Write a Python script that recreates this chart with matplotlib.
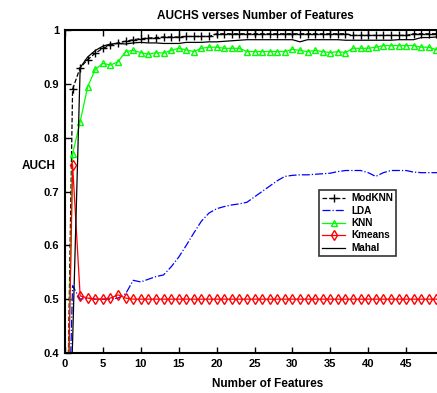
from matplotlib import pyplot as plt
import numpy as np

plt.rcParams['font.family'] = ['Liberation Sans', 'DejaVu Sans']
plt.rcParams['font.weight'] = 'bold'

features = list(range(0, 51))

modknn = [0.0, 0.89, 0.93, 0.945, 0.957, 0.966, 0.972, 0.976, 0.979, 0.982, 0.984,
          0.985, 0.986, 0.987, 0.987, 0.987, 0.988, 0.988, 0.988, 0.988, 0.993,
          0.993, 0.993, 0.993, 0.993, 0.993, 0.993, 0.993, 0.993, 0.993, 0.993,
          0.993, 0.993, 0.993, 0.993, 0.993, 0.993, 0.993, 0.990, 0.990, 0.990,
          0.990, 0.990, 0.990, 0.990, 0.990, 0.993, 0.993, 0.993, 0.993, 0.993]

lda = [0.0, 0.525, 0.5, 0.502, 0.5, 0.5, 0.5, 0.502, 0.51, 0.535, 0.532,
       0.537, 0.542, 0.545, 0.56, 0.578, 0.6, 0.623, 0.645, 0.66, 0.668,
       0.672, 0.675, 0.677, 0.68, 0.69, 0.70, 0.71, 0.72, 0.728, 0.73,
       0.731, 0.731, 0.732, 0.733, 0.734, 0.737, 0.739, 0.739, 0.739, 0.735,
       0.728, 0.735, 0.739, 0.739, 0.739, 0.736, 0.735, 0.735, 0.735, 0.735]

knn = [0.0, 0.77, 0.83, 0.895, 0.927, 0.938, 0.935, 0.941, 0.96, 0.962, 0.958,
       0.955, 0.958, 0.957, 0.962, 0.966, 0.963, 0.96, 0.966, 0.968, 0.968,
       0.966, 0.966, 0.966, 0.96, 0.96, 0.96, 0.96, 0.96, 0.96, 0.964,
       0.962, 0.96, 0.962, 0.96, 0.958, 0.96, 0.958, 0.966, 0.966, 0.966,
       0.968, 0.971, 0.971, 0.971, 0.971, 0.971, 0.968, 0.968, 0.963, 0.965]

kmeans = [0.0, 0.75, 0.506, 0.502, 0.5, 0.5, 0.502, 0.508, 0.502, 0.5, 0.5,
          0.5, 0.5, 0.5, 0.5, 0.5, 0.5, 0.5, 0.5, 0.5, 0.5,
          0.5, 0.5, 0.5, 0.5, 0.5, 0.5, 0.5, 0.5, 0.5, 0.5,
          0.5, 0.5, 0.5, 0.5, 0.5, 0.5, 0.5, 0.5, 0.5, 0.5,
          0.5, 0.5, 0.5, 0.5, 0.5, 0.5, 0.5, 0.5, 0.5, 0.5]

mahal = [0.0, 0.42, 0.93, 0.95, 0.962, 0.97, 0.974, 0.975, 0.974, 0.976, 0.977,
         0.976, 0.976, 0.975, 0.975, 0.975, 0.977, 0.977, 0.977, 0.978, 0.978,
         0.979, 0.980, 0.981, 0.982, 0.982, 0.982, 0.982, 0.982, 0.982, 0.982,
         0.978, 0.982, 0.982, 0.982, 0.982, 0.982, 0.981, 0.981, 0.981, 0.981,
         0.981, 0.981, 0.981, 0.982, 0.982, 0.982, 0.986, 0.986, 0.987, 0.987]


def main():
    fig = plt.figure(figsize=(4.37, 3.93), dpi=100)
    ax = fig.add_axes([65 / 437, 40 / 393, 379 / 437, 323 / 393])

    ax.plot(features, modknn, 'k--', marker='+', markersize=6, linewidth=0.9, label='ModKNN')
    ax.plot(features, lda, color='blue', linestyle='-.', linewidth=0.9, label='LDA')
    ax.plot(features, knn, color=(0, 1, 0), marker='^', markersize=5, markerfacecolor='none',
            linewidth=0.9, label='KNN')
    ax.plot(features, kmeans, color='red', marker='d', markersize=5, markerfacecolor='none',
            linewidth=0.9, label='Kmeans')
    ax.plot(features, mahal, 'k-', linewidth=0.9, label='Mahal')

    ax.set_xlim(0, 50)
    ax.set_ylim(0.4, 1.0)
    ax.set_xticks(np.arange(0, 50, 5))
    ax.set_yticks([0.4, 0.5, 0.6, 0.7, 0.8, 0.9, 1.0])
    ax.set_yticklabels(['0.4', '0.5', '0.6', '0.7', '0.8', '0.9', '1'])
    ax.tick_params(direction='in', top=True, right=True, labelsize=8, width=1, length=4, pad=4)
    for s in ax.spines.values():
        s.set_linewidth(1.5)

    ax.set_title('AUCHS verses Number of Features', fontsize=8.5, fontweight='bold', pad=8,
                 x=(255 - 65) / 379)
    ax.set_xlabel('Number of Features', fontsize=8.5, fontweight='bold', labelpad=7,
                  x=(268 - 65) / 379)
    ax.set_ylabel('AUCH', fontsize=8.5, fontweight='bold', rotation=0)
    ax.yaxis.set_label_coords(-0.07, 0.56)

    leg = ax.legend(loc='upper left', bbox_to_anchor=((314 - 65) / 379, (353 - 185) / 323),
                    fontsize=7.2, frameon=True, fancybox=False, edgecolor='black',
                    handlelength=2.3, borderpad=0.3, labelspacing=0.25, handletextpad=0.6)
    leg.get_frame().set_linewidth(1.2)

    plt.savefig('out.png', dpi=100)


if __name__ == '__main__':
    main()
